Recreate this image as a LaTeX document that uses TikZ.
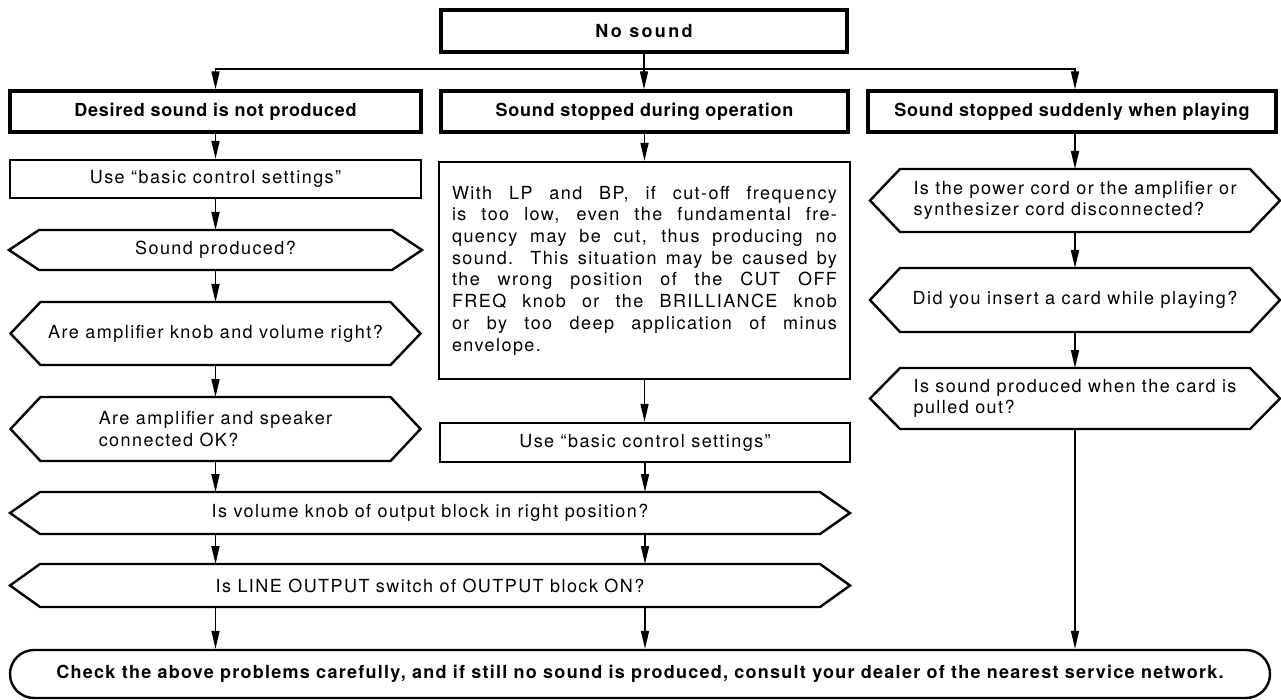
\documentclass[tikz,border=0pt]{standalone}
\usepackage{fontspec}
\setmainfont{TeX Gyre Heros}[LetterSpace=8]
\newfontfamily\headfont{TeX Gyre Heros}[LetterSpace=4]
\newfontfamily\widefont{TeX Gyre Heros}[LetterSpace=7]
\newfontfamily\topfont{TeX Gyre Heros}[LetterSpace=13]
\usetikzlibrary{arrows.meta}

\begin{document}
\begin{tikzpicture}[x=1pt, y=-1pt,
    txt/.style={font=\fontsize{18}{21.7}\selectfont},
    head/.style={draw, line width=3.2pt, inner sep=0pt,
                 font=\headfont\bfseries\fontsize{18}{21.7}\selectfont},
    box/.style={draw, line width=2.4pt, inner sep=0pt, txt},
    hexq/.style={inner sep=0pt, outer sep=0pt, txt},
    endbox/.style={draw, line width=2.4pt, rounded corners=24pt, inner sep=0pt,
                 font=\widefont\bfseries\fontsize{18}{21.7}\selectfont},
    hexline/.style={line width=2.4pt, line join=miter},
    flow/.style={line width=1.6pt, -{Triangle[length=18pt, width=8pt]}}]
  \path[fill=white, use as bounding box] (0,0) rectangle (1281,700);

  % top and the three cases
  \node[head, font=\topfont\bfseries\fontsize{18}{21.7}\selectfont,
        minimum width=406, minimum height=42] (nosnd) at (644,31) {No sound};
  \node[head, minimum width=411, minimum height=41] (hL) at (215.5,111.5)
        {Desired sound is not produced};
  \node[head, minimum width=407, minimum height=41] (hM) at (644.5,111.5)
        {Sound stopped during operation};
  \node[head, minimum width=408, minimum height=41] (hR) at (1072,111.5)
        {Sound stopped suddenly when playing};

  % left column
  \node[box, minimum width=411, minimum height=38] (useL) at (215.5,179)
        {Use ``basic control settings''};
  \node[hexq, minimum width=413, minimum height=40] (qL1) at (215.5,250)
        {Sound produced?};
  \node[hexq, minimum width=410, minimum height=63] (qL2) at (215.5,333.5)
        {Are amplifier knob and volume right?};
  \node[hexq, align=left, minimum width=410, minimum height=64] (qL3) at (215.5,429)
        {Are amplifier and speaker\\connected OK?};

  % middle column
  \node[box, text width=385, align=justify, minimum width=411, minimum height=217]
        (cause) at (644.5,270.5)
        {\hyphenpenalty=10000 With LP and BP, if cut-off frequency\linebreak
         is too low, even the fundamental fre-\linebreak
         quency may be cut, thus producing no\linebreak
         sound. This situation may be caused by\linebreak
         the wrong position of the CUT OFF\linebreak
         FREQ knob or the BRILLIANCE knob\linebreak
         or by too deep application of minus\linebreak
         envelope.};
  \node[box, minimum width=410, minimum height=39] (useM) at (645,442.5)
        {Use ``basic control settings''};

  % right column
  \node[hexq, align=left, minimum width=410, minimum height=63] (qR1) at (1075,200.5)
        {Is the power cord or the amplifier or\\synthesizer cord disconnected?};
  \node[hexq, minimum width=410, minimum height=64] (qR2) at (1075,300)
        {Did you insert a card while playing?};
  \node[hexq, align=left, minimum width=410, minimum height=61] (qR3) at (1075,398.5)
        {Is sound produced when the card is\\pulled out?};

  % common checks
  \node[hexq, minimum width=840, minimum height=42] (wq1) at (430,513)
        {Is volume knob of output block in right position?};
  \node[hexq, minimum width=840, minimum height=43] (wq2) at (430,585.5)
        {Is LINE OUTPUT switch of OUTPUT block ON?};
  \node[endbox, minimum width=1260, minimum height=48] (fin) at (640,674)
        {Check the above problems carefully, and if still no sound is produced, consult your dealer of the nearest service network.};

  \foreach \n in {qL1,qL2,qL3,qR1,qR2,qR3,wq1,wq2}
    \draw[hexline] (\n.west) -- ([xshift=30]\n.north west)
          -- ([xshift=-30]\n.north east) -- (\n.east)
          -- ([xshift=-30]\n.south east) -- ([xshift=30]\n.south west) -- cycle;

  % connectors
  \coordinate (split) at (644,69);
  \draw[flow] (nosnd.south) -- (nosnd.south |- hM.north);
  \draw[flow] (split) -| (hL.north);
  \draw[flow] (split) -| (qR1.north |- hR.north);

  \draw[flow] (hL.south) -- (useL.north);
  \draw[flow] (useL.south) -- (qL1.north);
  \draw[flow] (qL1.south) -- (qL2.north);
  \draw[flow] (qL2.south) -- (qL3.north);
  \draw[flow] (qL3.south) -- (qL3.south |- wq1.north);
  \draw[flow] (wq1.south -| qL3) -- (wq2.north -| qL3);
  \draw[flow] (wq2.south -| qL3) -- (fin.north -| qL3);

  \draw[flow] (hM.south) -- (hM.south |- cause.north);
  \draw[flow] (cause.south) -- (cause.south |- useM.north);
  \draw[flow] (useM.south) -- (useM.south |- wq1.north);
  \draw[flow] (wq1.south -| useM) -- (wq2.north -| useM);
  \draw[flow] (wq2.south -| useM) -- (fin.north -| useM);

  \draw[flow] (hR.south -| qR1) -- (qR1.north);
  \draw[flow] (qR1.south) -- (qR2.north);
  \draw[flow] (qR2.south) -- (qR3.north);
  \draw[flow, line width=1.2pt] (qR3.south) -- (qR3.south |- fin.north);
\end{tikzpicture}
\end{document}
